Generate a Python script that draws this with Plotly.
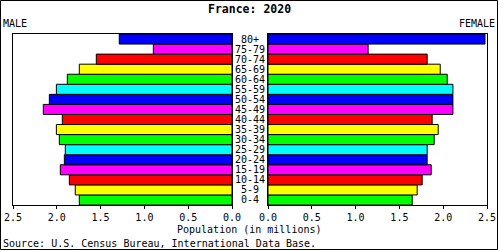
import plotly.graph_objects as go

ages = ["0-4", "5-9", "10-14", "15-19", "20-24", "25-29", "30-34", "35-39", "40-44",
        "45-49", "50-54", "55-59", "60-64", "65-69", "70-74", "75-79", "80+"]
male = [1.743, 1.789, 1.857, 1.960, 1.914, 1.903, 1.971, 2.005, 1.937,
        2.154, 2.085, 2.005, 1.880, 1.743, 1.549, 0.898, 1.287]
female = [1.646, 1.703, 1.760, 1.863, 1.817, 1.817, 1.897, 1.943, 1.874,
          2.111, 2.111, 2.111, 2.046, 1.966, 1.817, 1.143, 2.477]
palette = ["#00ff00", "#ffff00", "#ff0000", "#ff00ff", "#0000ff", "#00ffff"]
colors = [palette[i % 6] for i in range(len(ages))]
tick_vals = [0.0, 0.5, 1.0, 1.5, 2.0, 2.5]
tick_text = ["0.0", "0.5", "1.0", "1.5", "2.0", "2.5"]

W, H = 501, 251
FONT = "DejaVu Sans Mono"

def px(x):
    return x / W

def py(y):
    return 1 - y / H

fig = go.Figure()
fig.add_trace(go.Bar(y=ages, x=male, orientation="h", xaxis="x", yaxis="y",
                     marker=dict(color=colors, line=dict(color="black", width=1)),
                     showlegend=False, hoverinfo="skip"))
fig.add_trace(go.Bar(y=ages, x=female, orientation="h", xaxis="x2", yaxis="y2",
                     marker=dict(color=colors, line=dict(color="black", width=1)),
                     showlegend=False, hoverinfo="skip"))

axis_common = dict(showgrid=False, zeroline=False, showline=True, linecolor="black",
                   linewidth=1, mirror=True, ticks="outside", ticklen=3,
                   tickcolor="black", tickwidth=1, tickvals=tick_vals, ticktext=tick_text,
                   tickfont=dict(family=FONT, size=10, color="black"), fixedrange=True,
                   automargin=False)
yaxis_common = dict(showgrid=False, zeroline=False, showline=True, linecolor="black",
                    linewidth=1, mirror=True, showticklabels=False, ticks="",
                    range=[-0.5, len(ages) - 0.5], domain=[py(205), py(34)],
                    categoryorder="array", categoryarray=ages, fixedrange=True,
                    automargin=False)

fig.update_layout(
    template="none",
    width=W, height=H, margin=dict(l=0, r=0, t=0, b=0, pad=0, autoexpand=False),
    paper_bgcolor="white", plot_bgcolor="white",
    bargap=0,
    font=dict(family=FONT, size=10, color="black"),
    xaxis=dict(axis_common, domain=[px(13), px(232)], range=[2.5, 0], anchor="y"),
    xaxis2=dict(axis_common, domain=[px(268), px(487)], range=[0, 2.5], anchor="y2"),
    yaxis=dict(yaxis_common, anchor="x"),
    yaxis2=dict(yaxis_common, anchor="x2"),
)

ann = []
for a in ages:
    ann.append(dict(x=px(250), y=a, xref="paper", yref="y", text=a, showarrow=False,
                    xanchor="center", yanchor="middle",
                    font=dict(family=FONT, size=10, color="black")))
ann += [
    dict(x=px(249), y=py(9), xref="paper", yref="paper", text="<b>France: 2020</b>",
         showarrow=False, xanchor="center", yanchor="middle",
         font=dict(family=FONT, size=11.5, color="black")),
    dict(x=px(1), y=py(23), xref="paper", yref="paper", text="MALE",
         showarrow=False, xanchor="left", yanchor="middle",
         font=dict(family=FONT, size=10, color="black")),
    dict(x=px(497), y=py(23), xref="paper", yref="paper", text="FEMALE",
         showarrow=False, xanchor="right", yanchor="middle",
         font=dict(family=FONT, size=10, color="black")),
    dict(x=px(249), y=py(229), xref="paper", yref="paper", text="Population (in millions)",
         showarrow=False, xanchor="center", yanchor="middle",
         font=dict(family=FONT, size=10, color="black")),
    dict(x=px(1), y=py(243), xref="paper", yref="paper",
         text="Source: U.S. Census Bureau, International Data Base.",
         showarrow=False, xanchor="left", yanchor="middle",
         font=dict(family=FONT, size=10, color="black")),
]
fig.update_layout(annotations=ann)

fig.add_shape(type="rect", xref="paper", yref="paper",
              x0=px(0.5), x1=px(497.5), y0=py(249.5), y1=py(0.5),
              line=dict(color="black", width=1), fillcolor="rgba(0,0,0,0)", layer="above")

fig.write_html("out.html", config={"displayModeBar": False, "staticPlot": True})
